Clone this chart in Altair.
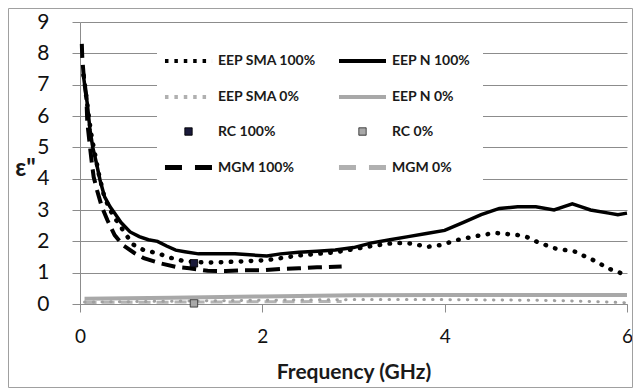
import altair as alt
import pandas as pd

# ---------------- data ----------------
series_names = ["EEP SMA 100%", "EEP N 100%", "EEP SMA 0%", "EEP N 0%",
                "RC 100%", "RC 0%", "MGM 100%", "MGM 0%"]

n100_f = [0.035, 0.06, 0.08, 0.11, 0.14, 0.18, 0.22, 0.27, 0.33, 0.38, 0.45, 0.55, 0.65, 0.75,
          0.85, 0.95, 1.05, 1.15, 1.3, 1.5, 1.7, 1.9, 2.05, 2.2, 2.4, 2.6, 2.8, 3.0, 3.2, 3.4,
          3.6, 3.8, 4.0, 4.2, 4.4, 4.6, 4.8, 5.0, 5.2, 5.3, 5.4, 5.5, 5.6, 5.8, 5.9, 6.0]
n100_v = [7.35, 6.8, 6.4, 5.55, 5.0, 4.5, 3.95, 3.42, 3.1, 2.9, 2.6, 2.3, 2.15, 2.05,
          2.0, 1.85, 1.72, 1.67, 1.6, 1.6, 1.6, 1.56, 1.53, 1.6, 1.65, 1.68, 1.72, 1.8, 1.95, 2.05,
          2.15, 2.25, 2.35, 2.6, 2.85, 3.05, 3.1, 3.1, 3.0, 3.1, 3.2, 3.1, 3.0, 2.9, 2.85, 2.9]

sma100_f = [0.04, 0.07, 0.1, 0.13, 0.17, 0.21, 0.26, 0.32, 0.38, 0.45, 0.52, 0.58, 0.7, 0.85,
            1.0, 1.15, 1.4, 1.7, 2.05, 2.4, 2.8, 3.2, 3.45, 3.65, 3.8, 3.95, 4.15, 4.35, 4.55,
            4.8, 4.9, 5.0, 5.2, 5.45, 5.55, 5.67, 5.78, 5.9, 6.0]
sma100_v = [7.3, 6.6, 5.9, 5.3, 4.7, 4.1, 3.5, 3.05, 2.75, 2.45, 2.15, 1.9, 1.72, 1.62,
            1.47, 1.36, 1.32, 1.35, 1.4, 1.55, 1.65, 1.85, 1.95, 1.93, 1.82, 1.88, 2.05, 2.17, 2.27,
            2.2, 2.14, 2.0, 1.78, 1.66, 1.5, 1.35, 1.15, 1.02, 0.92]

mgm100_f = [0.02, 0.025, 0.04, 0.07, 0.08, 0.11, 0.13, 0.15, 0.19, 0.24, 0.3, 0.38, 0.47, 0.6,
            0.7, 0.88, 1.06, 1.2, 1.4, 1.6, 1.8, 2.0, 2.2, 2.4, 2.6, 2.87]
mgm100_v = [8.3, 7.85, 7.3, 6.6, 5.8, 5.0, 4.5, 4.05, 3.6, 3.1, 2.68, 2.2, 1.88, 1.62,
            1.46, 1.3, 1.18, 1.14, 1.06, 1.05, 1.08, 1.08, 1.12, 1.14, 1.17, 1.2]

n0_f = [0.05, 1.0, 2.0, 3.0, 4.0, 5.0, 6.0]
n0_v = [0.17, 0.2, 0.24, 0.28, 0.29, 0.29, 0.29]

sma0_f = [0.05, 1.0, 2.0, 3.0, 4.0, 5.0, 5.5, 6.0]
sma0_v = [0.06, 0.09, 0.12, 0.14, 0.14, 0.12, 0.09, 0.04]

mgm0_f = [0.05, 1.0, 2.0, 2.87]
mgm0_v = [0.05, 0.06, 0.07, 0.08]

rc_f = [1.25, 1.25]
rc_v = [1.3, 0.02]
rc_names = ["RC 100%", "RC 0%"]

x_ticks = [0, 2, 4, 6]
y_ticks = [0, 1, 2, 3, 4, 5, 6, 7, 8, 9]

# ---------------- styles ----------------
W, H = 547, 282
SVG_H = 380
FONT = "Lato"
GRID = "#8c8c8c"

x_scale = alt.Scale(domain=[0, 6], nice=False, zero=False)
y_scale = alt.Scale(domain=[0, 9], nice=False)

x_axis = alt.Axis(values=x_ticks, grid=False, tickSize=8, labelPadding=15, labelFontSize=19,
                  labelFont=FONT, labelColor="#111111", labelFlush=False,
                  domainColor=GRID, tickColor=GRID,
                  title="Frequency (GHz)", titleFont=FONT, titleFontSize=21,
                  titleFontWeight="bold", titleColor="#1a1a1a", titlePadding=15)
y_axis = alt.Axis(values=y_ticks, grid=True, gridColor=GRID, tickSize=8, labelPadding=23,
                  labelFontSize=21, labelFont=FONT, labelColor="#111111",
                  domainColor=GRID, tickColor=GRID,
                  title='ε"', titleAngle=0, titleX=-55, titleY=146, titleAlign="center",
                  titleBaseline="middle", titleFont=FONT, titleFontSize=24,
                  titleFontWeight="bold", titleColor="#1a1a1a")


def df_of(f, v, name):
    return pd.DataFrame({"f": f, "v": v, "series": name})


def line_layer(df, color, width, dash=None, cap="butt"):
    kw = dict(color=color, strokeWidth=width, strokeCap=cap)
    if dash is not None:
        kw["strokeDash"] = dash
    return alt.Chart(df).mark_line(**kw).encode(
        x=alt.X("f:Q", scale=x_scale, axis=x_axis),
        y=alt.Y("v:Q", scale=y_scale, axis=y_axis),
    )


layers = [
    line_layer(df_of(n0_f, n0_v, "EEP N 0%"), "#a8a8a8", 4),
    line_layer(df_of(mgm0_f, mgm0_v, "MGM 0%"), "#b4b4b4", 3, [12, 6]),
    line_layer(df_of(sma0_f, sma0_v, "EEP SMA 0%"), "#a0a0a0", 3, [0.5, 8.2], "round"),
    line_layer(df_of(mgm100_f, mgm100_v, "MGM 100%"), "#000000", 4, [14, 7]),
    line_layer(df_of(sma100_f, sma100_v, "EEP SMA 100%"), "#000000", 4.5, [0.5, 9.5], "round"),
    line_layer(df_of(n100_f, n100_v, "EEP N 100%"), "#000000", 3.5),
]

# legend styles, one per series in series_names order
SYM_SIZE = 1129
LINE_SYM = "M-1.4,0H1.4"
SQUARE_SYM = "M-0.22,-0.22H0.22V0.22H-0.22Z"
leg_fill = ["#000000", "#000000", "#b0b0b0", "#a8a8a8", "#1a1a3a", "#a8a8a8", "#000000", "#b0b0b0"]
leg_stroke = ["#000000", "#000000", "#b0b0b0", "#a8a8a8", "#000000", "#333333", "#000000", "#b0b0b0"]
leg_shape = [LINE_SYM, LINE_SYM, LINE_SYM, LINE_SYM, SQUARE_SYM, SQUARE_SYM, LINE_SYM, LINE_SYM]
leg_dash = [[3.5, 5.9], [1, 0], [3.5, 5.9], [1, 0], [1, 0], [1, 0], [17, 13], [17, 13]]
leg_width = [4, 4, 4, 4, 1, 1, 5, 5]

leg = alt.Legend(orient="none", legendX=77, legendY=8, columns=2, direction="horizontal",
                 title=None, labelFont=FONT, labelFontSize=14, labelFontWeight="bold",
                 labelColor="#1a1a1a", fillColor="white", padding=12,
                 rowPadding=9, columnPadding=11, labelOffset=10, symbolOpacity=1,
                 symbolSize=SYM_SIZE)

rc_df = pd.DataFrame({"f": rc_f, "v": rc_v, "series": rc_names})
rc_layer = alt.Chart(rc_df).mark_point(filled=True, opacity=1, size=SYM_SIZE).encode(
    x=alt.X("f:Q", scale=x_scale, axis=x_axis),
    y=alt.Y("v:Q", scale=y_scale, axis=y_axis),
    color=alt.Color("series:N", scale=alt.Scale(domain=series_names, range=leg_fill), legend=leg),
    stroke=alt.Stroke("series:N", scale=alt.Scale(domain=series_names, range=leg_stroke), legend=leg),
    shape=alt.Shape("series:N", scale=alt.Scale(domain=series_names, range=leg_shape), legend=leg),
    strokeDash=alt.StrokeDash("series:N", scale=alt.Scale(domain=series_names, range=leg_dash), legend=leg),
    strokeWidth=alt.StrokeWidth("series:N", scale=alt.Scale(type="ordinal", domain=series_names, range=leg_width), legend=leg),
)

frame = alt.Chart(pd.DataFrame({"k": [0]})).mark_rect(filled=False, stroke="#a0a0a0", strokeWidth=1).encode(
    x=alt.value(-71.5), x2=alt.value(552.5), y=alt.value(-13.5), y2=alt.value(SVG_H - 14 - 0.5)
)

chart = alt.layer(frame, *layers, rc_layer).properties(
    width=W, height=H,
    autosize=alt.AutoSizeParams(type="none"),
    padding={"left": 72, "top": 14, "right": 6, "bottom": SVG_H - 14 - H},
    background="white",
).configure_view(stroke=None).configure_legend(
    fillColor="white", direction="horizontal", columns=2, orient="none"
)

chart.save("out.html", embed_options={"renderer": "svg", "actions": False})
